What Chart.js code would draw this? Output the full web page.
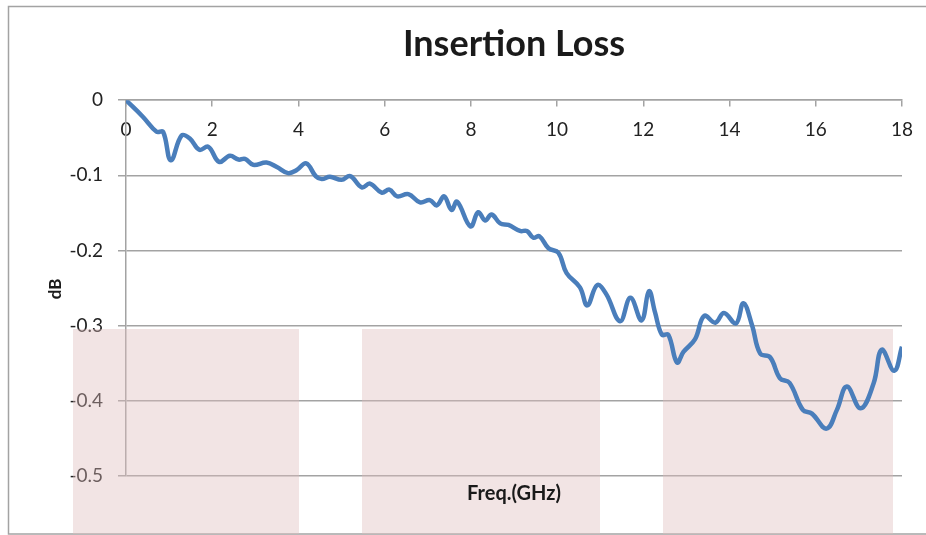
<!DOCTYPE html>
<html>
<head>
<meta charset="utf-8">
<script src="https://cdn.jsdelivr.net/npm/chart.js@4"></script>
<style>
  body { margin: 0; background: #fff; }
  canvas { display: block; }
</style>
</head>
<body>
<canvas id="myChart" width="926" height="535"></canvas>
<script>
/* datos */
const freq = [0, 0.39, 0.71, 0.86, 1.04, 1.29, 1.48, 1.70, 1.91, 2.16, 2.41, 2.61, 2.76, 2.95, 3.26, 3.50, 3.76, 3.96, 4.18, 4.40,
  4.54, 4.73, 5.00, 5.20, 5.47, 5.66, 5.93, 6.11, 6.29, 6.55, 6.82, 7.05, 7.21, 7.38, 7.55, 7.68, 7.99, 8.17, 8.33, 8.48,
  8.68, 8.87, 9.14, 9.30, 9.45, 9.59, 9.80, 10.03, 10.22, 10.53, 10.70, 10.93, 11.14, 11.46, 11.70, 11.96, 12.13, 12.27, 12.43, 12.58,
  12.78, 12.93, 13.20, 13.41, 13.67, 13.87, 14.15, 14.32, 14.52, 14.71, 14.94, 15.17, 15.39, 15.70, 15.91, 16.25, 16.49, 16.72, 17.04, 17.34,
  17.53, 17.82, 18.0];
const loss = [0, -0.022, -0.042, -0.042, -0.080, -0.047, -0.051, -0.066, -0.062, -0.082, -0.074, -0.079, -0.078, -0.086, -0.083, -0.089, -0.097, -0.093, -0.084, -0.101,
  -0.105, -0.102, -0.106, -0.101, -0.116, -0.111, -0.123, -0.119, -0.128, -0.125, -0.136, -0.133, -0.140, -0.128, -0.146, -0.135, -0.168, -0.149, -0.160, -0.152,
  -0.164, -0.166, -0.174, -0.174, -0.183, -0.181, -0.197, -0.203, -0.230, -0.249, -0.273, -0.246, -0.258, -0.294, -0.263, -0.293, -0.254, -0.282, -0.312, -0.312,
  -0.349, -0.335, -0.318, -0.287, -0.296, -0.283, -0.297, -0.270, -0.299, -0.337, -0.342, -0.370, -0.376, -0.412, -0.417, -0.437, -0.412, -0.381, -0.410, -0.377,
  -0.332, -0.360, -0.328];
const xTicks = ['0', '2', '4', '6', '8', '10', '12', '14', '16', '18'];
const yTicks = ['0', '-0.1', '-0.2', '-0.3', '-0.4', '-0.5'];

const gridColor = '#a3a3a3';
const font = 'Lato, "Open Sans", sans-serif';

/* marco, bandas rosadas y titulos de ejes */
const decor = {
  id: 'decor',
  beforeDraw(chart) {
    const c = chart.ctx;
    c.save();
    c.strokeStyle = gridColor;
    c.lineWidth = 1.5;
    c.strokeRect(8.5, 6.5, 930, 527.5);
    c.restore();
  },
  beforeDatasetsDraw(chart) {
    const c = chart.ctx;
    c.save();
    c.fillStyle = 'rgba(222,188,188,0.4)';
    [[73, 299], [362, 600], [663, 893]].forEach(b => c.fillRect(b[0], 329, b[1] - b[0], 205));
    c.restore();
  },
  afterDraw(chart) {
    const c = chart.ctx;
    const a = chart.chartArea;
    c.save();
    c.fillStyle = '#1a1a1a';
    c.font = 'bold 20px ' + font;
    c.textAlign = 'center';
    c.textBaseline = 'middle';
    c.fillText('Freq.(GHz)', (a.left + a.right) / 2, 494);
    c.translate(56, 289);
    c.rotate(-Math.PI / 2);
    c.font = 'bold 17px ' + font;
    c.fillText('dB', 0, 0);
    c.restore();
  }
};

const ctx = document.getElementById('myChart');
const chart = new Chart(ctx, {
  type: 'line',
  data: {
    datasets: [{
      label: 'Insertion Loss',
      data: freq.map((f, i) => ({ x: f, y: loss[i] })),
      borderColor: '#4a7ebb',
      borderWidth: 4.5,
      pointRadius: 0,
      tension: 0.4,
      fill: false
    }]
  },
  options: {
    responsive: false,
    animation: false,
    layout: { padding: { left: 0, right: 24, top: 0, bottom: 59 } },
    plugins: {
      legend: { display: false },
      tooltip: { enabled: false },
      title: {
        display: true,
        text: 'Insertion Loss',
        fullSize: false,
        color: '#1a1a1a',
        font: { family: font, size: 36, weight: 'bold' },
        padding: { top: 23, bottom: 34 }
      }
    },
    scales: {
      x: {
        type: 'linear',
        min: 0,
        max: 18,
        position: { y: 0 },
        grid: { drawOnChartArea: false, color: gridColor, lineWidth: 1.5, tickLength: 6 },
        border: { color: gridColor, width: 1.5 },
        ticks: {
          stepSize: 2,
          color: '#222',
          font: { family: font, size: 19 },
          padding: 12,
          maxRotation: 0,
          callback: (v, i) => xTicks[i]
        }
      },
      y: {
        min: -0.5,
        max: 0,
        afterFit: s => { s.width = 126; },
        grid: { color: gridColor, lineWidth: 1.5, tickLength: 8 },
        border: { color: gridColor, width: 1.5 },
        ticks: {
          stepSize: 0.1,
          color: '#222',
          font: { family: font, size: 19 },
          padding: 15,
          callback: (v, i, all) => yTicks[all.length - 1 - i]
        }
      }
    }
  },
  plugins: [decor]
});
</script>
</body>
</html>
